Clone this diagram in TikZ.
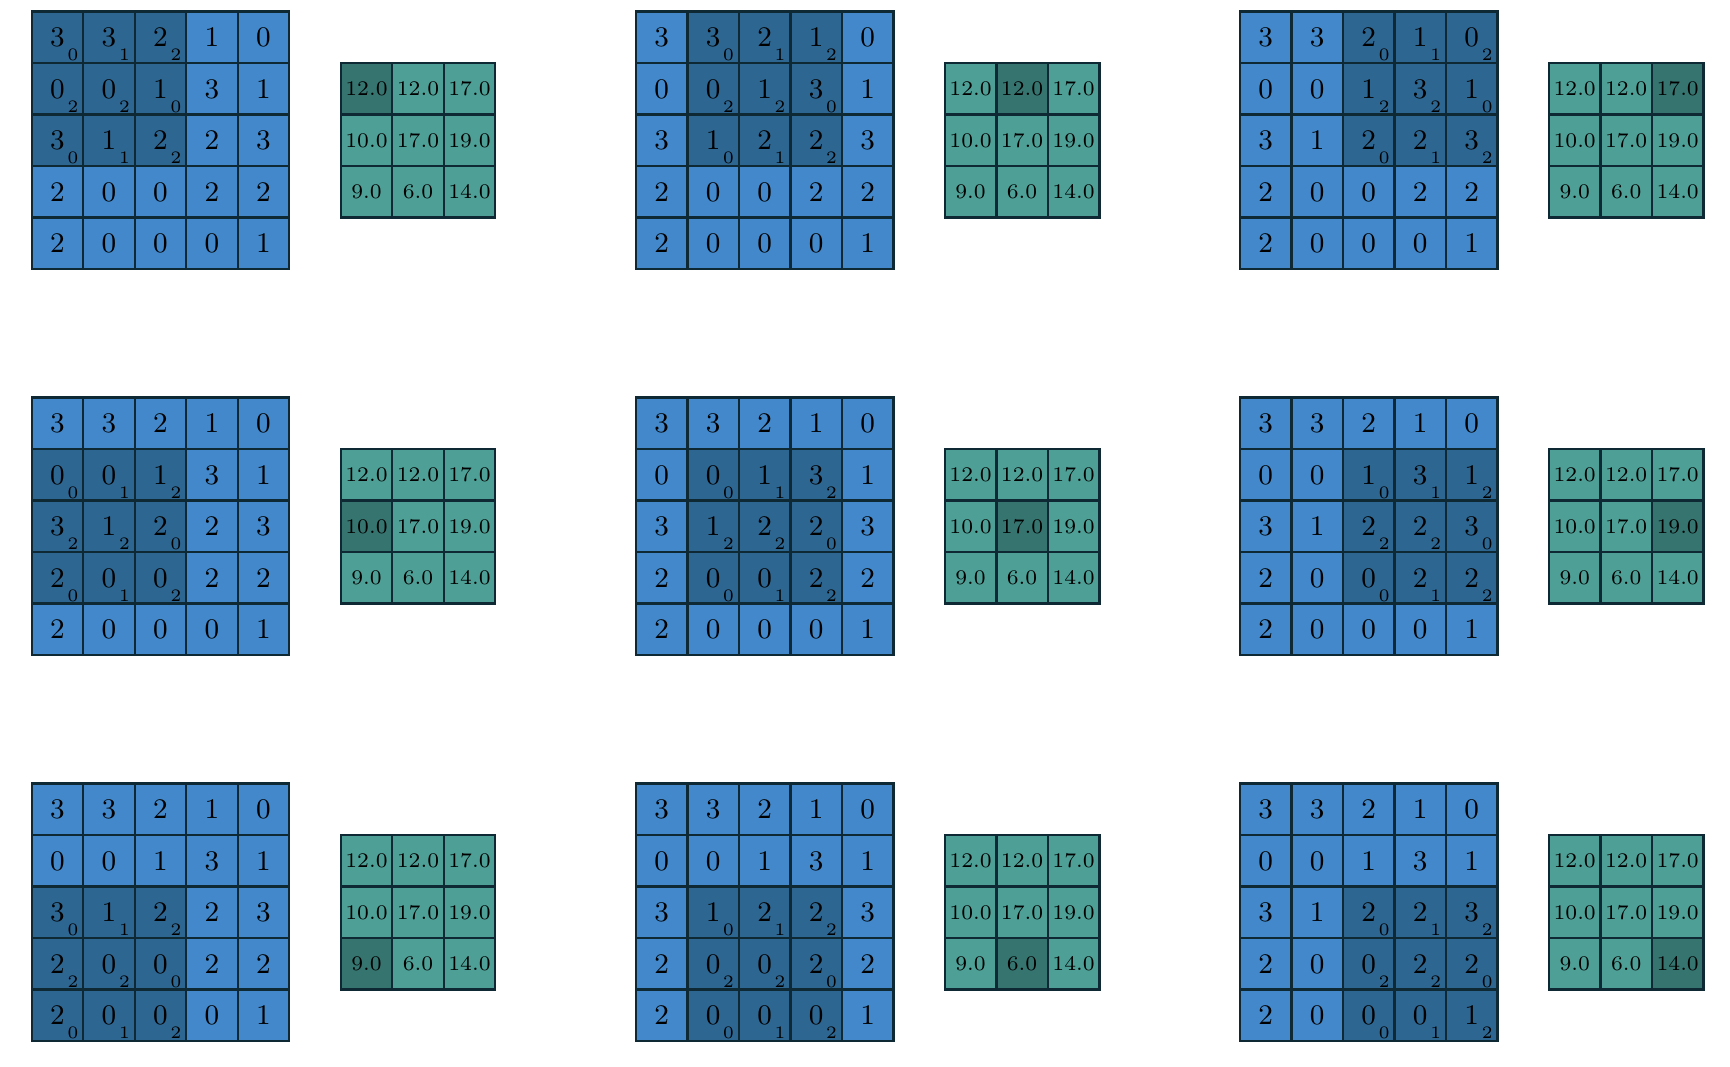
\documentclass[tikz,border=0pt]{standalone}
\usepackage{tikz}
\usetikzlibrary{calc}
\definecolor{inblue}{RGB}{66,136,202}
\definecolor{kerblue}{RGB}{46,102,146}
\definecolor{outteal}{RGB}{78,159,150}
\definecolor{outdark}{RGB}{54,116,112}
\definecolor{gridline}{RGB}{14,40,52}
\def\inval{{3,3,2,1,0, 0,0,1,3,1, 3,1,2,2,3, 2,0,0,2,2, 2,0,0,0,1}}
\def\kerw{{0,1,2, 2,2,0, 0,1,2}}
\def\outval{{12,12,17, 10,17,19, 9,6,14}}

\begin{document}
\begin{tikzpicture}
  [
    x=0.6cm, y=0.6cm,
    incell/.style =
      {draw=gridline, line width=0.8pt, fill=inblue, minimum size=0.6cm,
       inner sep=0pt, font=\fontsize{9.4}{11}\selectfont},
    kercell/.style = {incell, fill=kerblue},
    outcell/.style =
      {incell, fill=outteal, font=\fontsize{6.9}{8}\selectfont},
    hotcell/.style = {outcell, fill=outdark},
    weight/.style  = {inner sep=0pt, font=\fontsize{5.8}{6}\selectfont}
  ]
  \useasboundingbox (0,0) rectangle (33.592,-20.699);

  \foreach \pr in {0,1,2}
    \foreach \pc in {0,1,2} {
      \coordinate (p\pr\pc) at ({0.616+11.73*\pc}, {-0.227-7.495*\pr});

      % input with kernel
      \foreach \r in {0,...,4}
        \foreach \c in {0,...,4} {
          \pgfmathtruncatemacro\val{\inval[5*\r+\c]}
          \pgfmathtruncatemacro\ink{(\r>\pr-1)*(\r<\pr+3)*(\c>\pc-1)*(\c<\pc+3)}
          \ifnum\ink=1
            \pgfmathtruncatemacro\w{\kerw[3*(\r-\pr)+\c-\pc]}
            \node [kercell] (in\pr\pc-\r\c) at ($(p\pr\pc)+(\c+0.5,-\r-0.5)$) {\val};
            \node [weight]  (w\pr\pc-\r\c)  at ($(in\pr\pc-\r\c)+(0.3,-0.34)$) {\w};
          \else
            \node [incell]  (in\pr\pc-\r\c) at ($(p\pr\pc)+(\c+0.5,-\r-0.5)$) {\val};
          \fi
        }

      % output
      \foreach \r in {0,1,2}
        \foreach \c in {0,1,2} {
          \pgfmathtruncatemacro\o{\outval[3*\r+\c]}
          \pgfmathtruncatemacro\hot{(\r==\pr)*(\c==\pc)}
          \ifnum\hot=1 \def\sty{hotcell}\else\def\sty{outcell}\fi
          \node [\sty] (out\pr\pc-\r\c) at ($(p\pr\pc)+(\c+6.5,-\r-1.5)$) {\o.0};
        }
    }

\end{tikzpicture}
\end{document}
